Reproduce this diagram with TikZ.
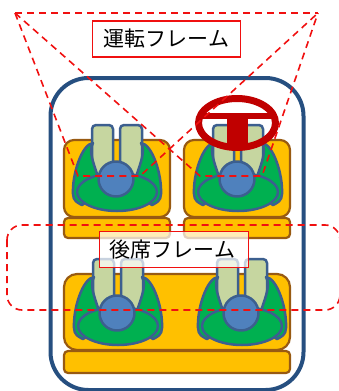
\documentclass[tikz,border=0pt]{standalone}
\usepackage{fontspec}
\newfontfamily\jpfont{Noto Sans CJK JP}
\definecolor{frameblue}{HTML}{264F80}
\definecolor{seatfill}{HTML}{FFC000}
\definecolor{seatline}{HTML}{985A12}
\definecolor{legfill}{HTML}{C6D6A0}
\definecolor{bodyline}{HTML}{3C5F8F}
\definecolor{bodygreen}{HTML}{00B050}
\definecolor{headblue}{HTML}{4F81BD}
\definecolor{wheelred}{HTML}{C00000}
\definecolor{framered}{HTML}{F01010}
\tikzset{
  seatbox/.style={draw=seatline,fill=seatfill,line width=2.2pt},
  personpart/.style={draw=bodyline,line width=2.5pt,line join=round},
  reddash/.style={draw=framered,line width=1.6pt,dash pattern=on 7pt off 5pt},
  labelbox/.style={draw=framered,line width=1.8pt,fill=white,text=black,minimum height=36pt,inner sep=0pt,font=\jpfont\fontsize{21}{21}\selectfont},
  person/.pic={
    \draw[personpart,fill=legfill,rounded corners=4pt] (-24,8) -- (-24,-54) -- (-3,-54) -- (-3,8) -- cycle;
    \draw[personpart,fill=legfill,rounded corners=4pt] (4,8) -- (4,-54) -- (26,-54) -- (26,8) -- cycle;
    \draw[personpart,fill=bodygreen] (-23,-36) .. controls (-34,-35) and (-44,-5) .. (-43,15) .. controls (-43,22) and (-38,24) .. (-34,26) -- (-10,10) -- (-18,-2) .. controls (-22,-15) and (-28,-28) .. (-23,-36) -- cycle;
    \draw[personpart,fill=bodygreen] (25,-36) .. controls (36,-35) and (46,-5) .. (45,15) .. controls (45,22) and (40,24) .. (36,26) -- (12,10) -- (20,-2) .. controls (24,-15) and (30,-28) .. (25,-36) -- cycle;
    \draw[personpart,fill=bodygreen] (1,13) ellipse [x radius=40,y radius=19];
    \draw[personpart,fill=headblue] (0,0) circle [radius=17.5];
  }
}
\begin{document}
\begin{tikzpicture}[x=1pt,y=-1pt]
\useasboundingbox (0,0) rectangle (338,391);
% cabin outline
\draw[frameblue,line width=4pt,rounded corners=38pt] (50.5,78) rectangle (303.5,390);
% seats
\draw[seatbox,rounded corners=10pt] (64,140) rectangle (170,217);
\draw[seatbox,rounded corners=4pt] (64,218) rectangle (170,238);
\draw[seatbox,rounded corners=10pt] (184,140) rectangle (290,217);
\draw[seatbox,rounded corners=4pt] (184,218) rectangle (290,238);
\draw[seatbox,rounded corners=13pt] (64,274) rectangle (290,350);
\draw[seatbox,rounded corners=4pt] (64,351) rectangle (290,373);
% occupants
\pic at (116,179) {person};
\pic at (237,179) {person};
\pic at (117,313) {person};
\pic at (241,313) {person};
% steering wheel
\draw[wheelred,line width=7pt] (237,123) ellipse [x radius=38.5,y radius=24.5];
\fill[wheelred] (198,113) rectangle (276,119);
\fill[wheelred] (227,113) rectangle (248,147);
% driving frame
\coordinate (apexL) at (15,13);
\coordinate (apexR) at (318,13);
\coordinate (a) at (78,176);
\coordinate (b) at (140,176);
\coordinate (c) at (200,176);
\coordinate (d) at (262,176);
\draw[reddash] (apexL) -- (apexR);
\draw[reddash] (apexL) -- (a) -- (b) -- (apexR);
\draw[reddash] (apexL) -- (c) -- (d) -- (apexR);
% rear frame
\draw[reddash,rounded corners=15pt] (7,225) rectangle (340,310);
% labels
\node[labelbox,minimum width=148pt] (front) at (166.5,39) {運転フレーム};
\node[labelbox,minimum width=149pt,fill opacity=0.72,text opacity=1] (rear) at (174,249.5) {\hspace*{-3pt}後席フレーム};
\end{tikzpicture}
\end{document}
